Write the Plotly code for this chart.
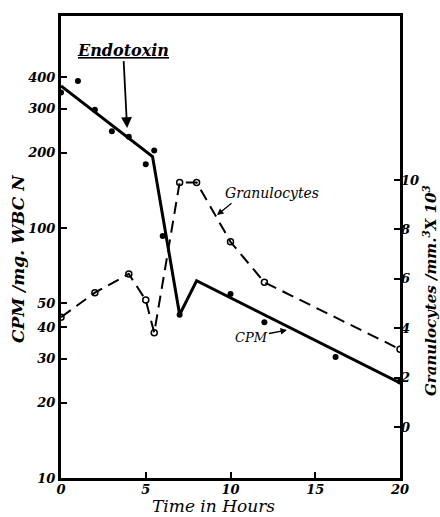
import numpy as np
import plotly.graph_objects as go

# CPM data points (left log axis)
cpm_time = [0, 1, 2, 3, 4, 5, 5.5, 6, 7, 10, 12, 16.2, 20]
cpm_vals = [348, 387, 297, 244, 232, 180, 204, 93, 45, 54.5, 42, 30.5, 24.3]

# hand-drawn CPM trend line
fit_time = [0, 5.4, 7, 8, 20]
fit_vals = [370, 193, 45, 61.5, 24]

# Granulocytes (right axis, x10^3 / mm^3)
gran_time = [0, 2, 4, 5, 5.5, 7, 8, 10, 12, 20]
gran_vals = [4.45, 5.44, 6.2, 5.14, 3.82, 9.9, 9.9, 7.5, 5.86, 3.15]

x_ticks = [0, 5, 10, 15, 20]
left_ticks = [10, 20, 30, 40, 50, 100, 200, 300, 400]
right_ticks = [0, 2, 4, 6, 8, 10]

FONT = "DejaVu Serif"
tickfont = dict(family=FONT, size=13, color="black", style="italic", weight="bold")

W, H = 440, 517
L, T, R, B = 61, 16, 400, 478


def px(xw):
    return (xw - L) / (R - L)


def py(yw):
    return (B - yw) / (B - T)


fig = go.Figure()

fig.add_trace(go.Scatter(
    x=gran_time, y=gran_vals, yaxis="y2", mode="lines+markers",
    line=dict(color="black", width=2, dash="12px,7px"),
    marker=dict(symbol="circle-open", size=6, color="black", line=dict(width=1.5)),
    showlegend=False))

fig.add_trace(go.Scatter(
    x=fit_time, y=fit_vals, mode="lines",
    line=dict(color="black", width=3), showlegend=False))

fig.add_trace(go.Scatter(
    x=cpm_time, y=cpm_vals, mode="markers",
    marker=dict(symbol="circle", size=6, color="black"), showlegend=False))

fig.update_layout(
    width=W, height=H,
    margin=dict(l=L, r=W - R, t=T, b=H - B, autoexpand=False),
    paper_bgcolor="white", plot_bgcolor="white",
    xaxis=dict(range=[0, 20], tickvals=x_ticks, ticktext=[str(v) for v in x_ticks],
               showgrid=False, zeroline=False, showline=True, linecolor="black",
               linewidth=3, mirror=True, ticks="inside", ticklen=6, tickwidth=2,
               tickcolor="black", tickfont=tickfont, ticklabelstandoff=-3),
    yaxis=dict(type="log", range=[1, 2.848], tickvals=left_ticks,
               ticktext=[str(v) for v in left_ticks],
               showgrid=False, zeroline=False, showline=True, linecolor="black",
               linewidth=3, mirror=True, ticks="inside", ticklen=6, tickwidth=2,
               tickcolor="black", tickfont=tickfont),
    yaxis2=dict(overlaying="y", side="right", range=[-2.06, 16.64],
                tickvals=right_ticks, ticktext=[str(v) for v in right_ticks],
                showgrid=False, zeroline=False, showline=False,
                ticks="inside", ticklen=6, tickwidth=2, tickcolor="black",
                tickfont=tickfont),
)

ann_font = dict(family=FONT, color="black", style="italic")
C = dict(xanchor="center", yanchor="middle")

# Endotoxin label with arrow
fig.add_annotation(x=3.9, y=np.log10(251), xref="x", yref="y",
                   text="<u>Endotoxin</u>", showarrow=True, arrowhead=2,
                   arrowsize=1.2, arrowwidth=1.8, arrowcolor="black",
                   ax=-4, ay=-78, font=dict(size=16, weight="bold", **ann_font))

# Granulocytes label
fig.add_annotation(xref="paper", yref="paper", x=px(272), y=py(193),
                   text="Granulocytes", showarrow=False,
                   font=dict(size=14, **ann_font), **C)
fig.add_annotation(xref="paper", yref="paper", x=px(217), y=py(215),
                   text="", showarrow=True, arrowhead=2, arrowwidth=1.3,
                   arrowcolor="black", ax=16, ay=-13)

# CPM label with arrow
fig.add_annotation(xref="paper", yref="paper", x=px(287), y=py(330),
                   text="CPM", showarrow=True, arrowhead=2, arrowwidth=1.3,
                   arrowcolor="black", ax=-36, ay=7,
                   font=dict(size=13, **ann_font))

# Axis titles
fig.add_annotation(xref="paper", yref="paper", x=px(18), y=py(259),
                   text="CPM /mg. WBC N", textangle=-90, showarrow=False,
                   font=dict(size=17, weight="bold", **ann_font), **C)
fig.add_annotation(xref="paper", yref="paper", x=px(430), y=py(290),
                   text="Granulocytes /mm.<sup>3</sup>X 10<sup>3</sup>", textangle=-90,
                   showarrow=False, font=dict(size=15, weight="bold", **ann_font), **C)
fig.add_annotation(xref="paper", yref="paper", x=px(213), y=py(506),
                   text="Time in Hours", showarrow=False,
                   font=dict(size=17, **ann_font), **C)

fig.write_html(
    "out.html",
    config={"displayModeBar": False},
    post_script="document.body.style.margin='0';document.body.style.overflow='hidden';",
)
